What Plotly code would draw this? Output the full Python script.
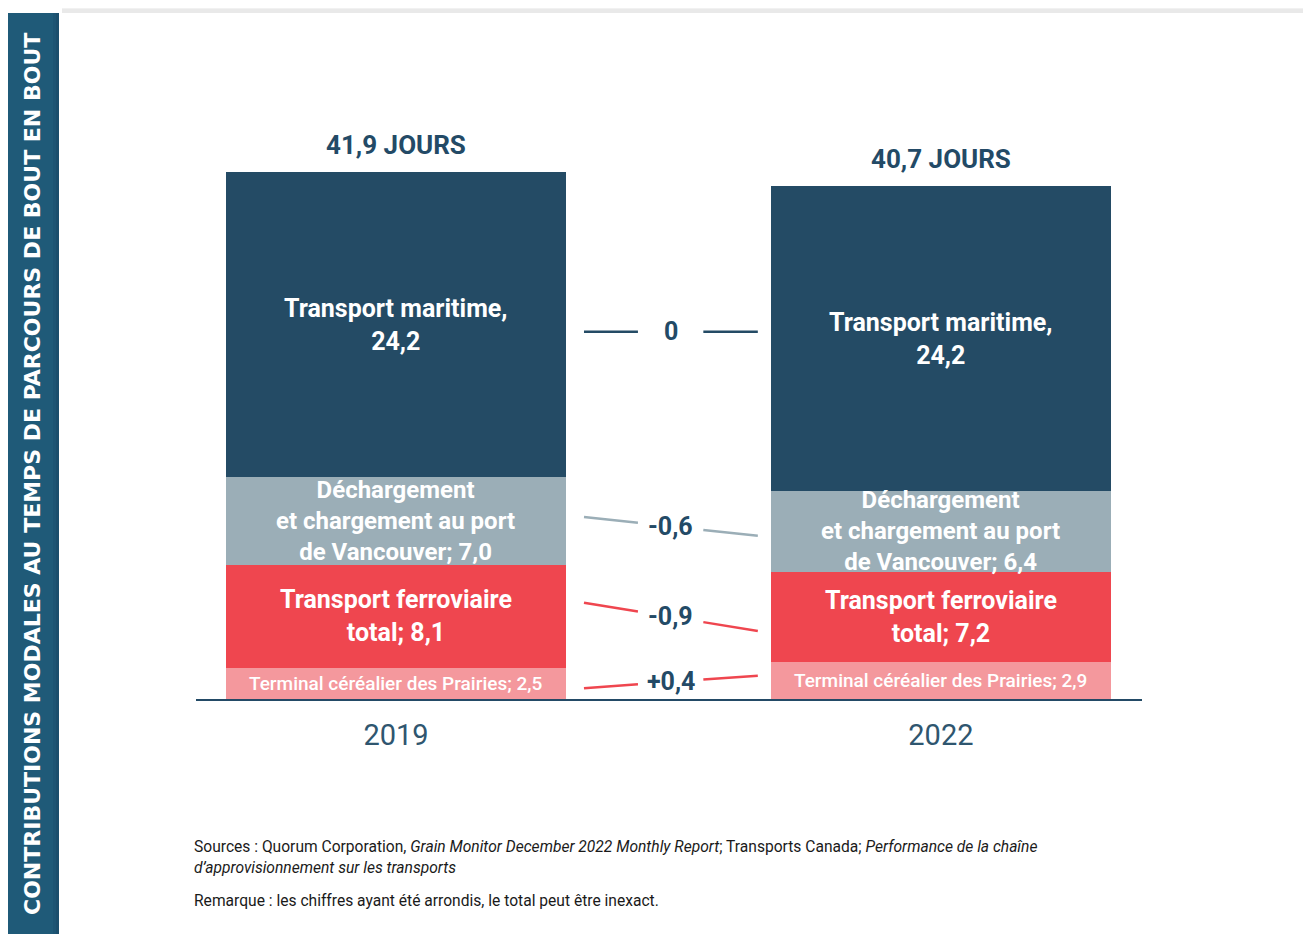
import plotly.graph_objects as go

# ---------------- data ----------------
years = ["2019", "2022"]
totals_label = ["41,9 JOURS", "40,7 JOURS"]
segments = ["Terminal céréalier des Prairies", "Transport ferroviaire total",
            "Déchargement et chargement au port de Vancouver", "Transport maritime"]
terminal = [2.5, 2.9]
ferroviaire = [8.1, 7.2]
port = [7.0, 6.4]
maritime = [24.2, 24.2]
label_prefix = ["Terminal céréalier des Prairies; ",
                "Transport ferroviaire<br>total; ",
                "Déchargement<br>et chargement au port<br>de Vancouver; ",
                "Transport maritime,<br>"]
y_title = "CONTRIBUTIONS MODALES AU TEMPS DE PARCOURS DE BOUT EN BOUT"
source_line1 = ("Sources : Quorum Corporation, <i>Grain Monitor December 2022 Monthly Report</i>; "
                "Transports Canada; <i>Performance de la chaîne</i>")
source_line2 = "<i>d’approvisionnement sur les transports</i>"
note = "Remarque : les chiffres ayant été arrondis, le total peut être inexact."

# ---------------- style ----------------
seg_colors = ["#f4989d", "#ef464f", "#9baeb7", "#244b65"]
line_colors = ["#ef464f", "#ef464f", "#9baeb7", "#244b65"]
label_sizes = [19, 25, 24, 25]
navy = "#234a66"
FONT = "Roboto"

OFF = 8  # page offset of the figure in the browser
W, H = 1311 - OFF, 934 - OFF
ML, MR, MT, MB = 196 - OFF, 169, 69 - OFF, 235
PW, PH = W - ML - MR, H - MT - MB


def px2x(px):
    return (px - OFF - ML) / PW


def py2y(py):
    return (H - MB - (py - OFF)) / PH


values = [terminal, ferroviaire, port, maritime]
xpos = list(range(len(years)))
bar_w = 0.624

fig = go.Figure()
for i, seg in enumerate(segments):
    fig.add_trace(go.Bar(x=xpos, y=values[i], name=seg, width=bar_w,
                         marker=dict(color=seg_colors[i], line=dict(width=0)),
                         hoverinfo="skip", showlegend=False))

annotations = []
cum = [[0.0] * len(years)]
for i in range(len(segments)):
    cum.append([cum[-1][j] + values[i][j] for j in range(len(years))])
mids = [[cum[i][j] + values[i][j] / 2 for j in range(len(years))] for i in range(len(segments))]
for i in range(len(segments)):
    for j in range(len(years)):
        txt = label_prefix[i] + f"{values[i][j]:.1f}".replace(".", ",")
        annotations.append(dict(x=xpos[j], y=mids[i][j], text=txt, showarrow=False,
                                xref="x", yref="y",
                                font=dict(family=FONT, size=label_sizes[i], color="white",
                                          weight=500 if i == 0 else "bold")))

for j in range(len(years)):
    annotations.append(dict(x=xpos[j], y=cum[-1][j], text=totals_label[j], showarrow=False,
                            yanchor="bottom", yshift=10, xref="x", yref="y",
                            font=dict(family=FONT, size=26, color=navy, weight="bold")))

xa = xpos[0] + bar_w / 2 + 0.033
xd = xpos[1] - bar_w / 2 - 0.024
xm = (xpos[0] + xpos[1]) / 2 + 0.004
gap = 0.06
k = 2.5
for i in range(len(segments)):
    delta = round(values[i][1] - values[i][0], 1)
    yc = (mids[i][0] + mids[i][1]) / 2

    def yy(x):
        return yc + k * delta * (x - xm) / (xd - xa)
    xs = [xa, xm - gap, None, xm + gap, xd]
    ys = [yy(xa), yy(xm - gap), None, yy(xm + gap), yy(xd)]
    fig.add_trace(go.Scatter(x=xs, y=ys, mode="lines", hoverinfo="skip", showlegend=False,
                             line=dict(color=line_colors[i], width=2.5)))
    if delta == 0:
        dtxt = "0"
    else:
        dtxt = ("+" if delta > 0 else "-") + f"{abs(delta):.1f}".replace(".", ",")
    annotations.append(dict(x=xm, y=yc, text=dtxt, showarrow=False, xref="x", yref="y",
                            font=dict(family=FONT, size=25, color=navy, weight="bold")))

annotations.append(dict(x=px2x(33), y=py2y(474), xref="paper", yref="paper", text=y_title,
                        textangle=-90, showarrow=False, xanchor="center", yanchor="middle",
                        font=dict(family="DejaVu Sans", size=22, color="white", weight="bold")))

for txt, py in [(source_line1, 847), (source_line2, 868), (note, 901)]:
    annotations.append(dict(x=px2x(192), y=py2y(py), xref="paper", yref="paper", text=txt,
                            xanchor="left", yanchor="middle", showarrow=False,
                            font=dict(family=FONT, size=15.6, color="#1a1a1a")))

shapes = []
for y0, col in [(0, "#f8f8f8"), (5, "#f1f1f1"), (9, "#e9e9e9")]:
    shapes.append(dict(type="rect", xref="paper", yref="paper", x0=px2x(62), x1=px2x(1311),
                       y0=py2y(13), y1=py2y(max(y0, OFF)), fillcolor=col, line=dict(width=0),
                       layer="below"))
shapes.append(dict(type="rect", xref="paper", yref="paper", x0=px2x(max(6, OFF)), x1=px2x(59),
                   y0=py2y(934), y1=py2y(13), fillcolor="#1f5a78", line=dict(width=0)))
for x0, col in [(53, "#1d5473"), (56, "#1b4e6c")]:
    shapes.append(dict(type="rect", xref="paper", yref="paper", x0=px2x(x0), x1=px2x(59),
                       y0=py2y(934), y1=py2y(13), fillcolor=col, line=dict(width=0)))

fig.update_layout(
    width=W, height=H, barmode="stack", bargap=0,
    margin=dict(l=ML, r=MR, t=MT, b=MB),
    paper_bgcolor="white", plot_bgcolor="white",
    xaxis=dict(range=[-0.367, 1.369], tickvals=xpos, ticktext=years, showgrid=False,
               zeroline=False, showline=True, linecolor=navy, linewidth=2, ticks="",
               tickfont=dict(family=FONT, size=29, color="#2f566f"), ticklabelstandoff=9,
               fixedrange=True),
    yaxis=dict(range=[0, 50], visible=False, fixedrange=True),
    annotations=annotations, shapes=shapes,
)
fig.write_html("out.html")
